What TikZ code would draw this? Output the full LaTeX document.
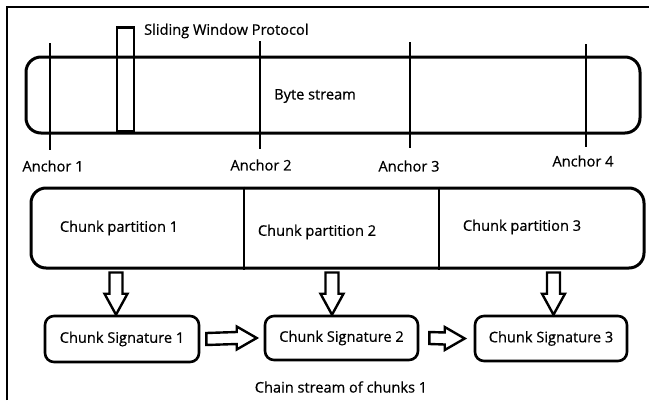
\documentclass[tikz,border=0pt]{standalone}
\usepackage{fontspec}
\setmainfont{Open Sans}[FakeBold=0.6]
\newfontfamily\labelfont{Open Sans}[FakeBold=0.6]
\usetikzlibrary{positioning,calc}

\tikzset{
  rbox/.style={draw, line width=3pt, rounded corners=15pt, inner sep=0pt},
  sigbox/.style={draw, line width=2.6pt, rounded corners=9pt, inner sep=0pt, font=\labelfont\fontsize{14.6}{16}\selectfont},
  txt/.style={inner sep=0pt, font=\labelfont\fontsize{14.6}{16}\selectfont},
  blk/.style={draw, line width=2.4pt, line join=miter},
  anc/.style={line width=2.8pt}
}

\begin{document}
\begin{tikzpicture}[x=1pt,y=-1pt]
  \useasboundingbox (0,0) rectangle (649,400);
  % frame
  \draw[line width=1.4pt] (7,400) -- (7,7) -- (649,7);

  % byte stream
  \node[rbox, minimum width=614pt, minimum height=76pt] (bytes) at (333,95) {};
  \node[txt] (bstxt) at (315,96) {Byte stream};

  % window
  \node[draw, line width=2.6pt, inner sep=0pt, minimum width=17pt, minimum height=104pt] (win) at (125.5,79.5) {};
  \node[txt, anchor=west] (wintxt) at (144,31) {Sliding Window Protocol};

  % anchors
  \foreach \x/\ya/\yb/\lx/\ly/\n in {50/43/150/53/166/1, 260/41/149/261/165/2, 410/42/148/409/166/3, 586/44/147/583/161/4}{
    \coordinate (at\n) at (\x,\ya);
    \coordinate (ab\n) at (\x,\yb);
    \draw[anc] (at\n) -- (ab\n);
    \node[txt] (anc\n) at (\lx,\ly) {Anchor \n};
  }

  % partitions
  \node[rbox, minimum width=613pt, minimum height=80pt] (parts) at (337.5,228) {};
  \draw[line width=2.4pt] (244,0 |- parts.north) -- (244,0 |- parts.south);
  \draw[line width=2.4pt] (439,0 |- parts.north) -- (439,0 |- parts.south);
  \node[txt] (p1) at (119,228) {Chunk partition 1};
  \node[txt] (p2) at (317,232) {Chunk partition 2};
  \node[txt] (p3) at (522,227) {Chunk partition 3};

  % signatures
  \node[sigbox, minimum width=154pt, minimum height=46pt] (sig1) at (122,339) {Chunk Signature 1};
  \node[sigbox, minimum width=153pt, minimum height=44pt] (sig2) at (341.5,338) {Chunk Signature 2};
  \node[sigbox, minimum width=152pt, minimum height=45pt] (sig3) at (551,338.5) {Chunk Signature 3};

  %parts>sig
  \foreach \x/\n in {116/1, 332/2, 553.5/3}{
    \coordinate (ds\n) at ($(\x,0 |- parts.south)+(0,3)$);
    \coordinate (dt\n) at (\x,0 |- sig\n.north);
    \draw[blk] ($(ds\n)+(-6.5,0)$) -- ($(dt\n)+(-6.5,-21)$) -- ($(dt\n)+(-11.5,-21)$) -- (dt\n)
      -- ($(dt\n)+(11.5,-21)$) -- ($(dt\n)+(6.5,-21)$) -- ($(ds\n)+(6.5,0)$) -- cycle;
  }

  %sig>sig
  \coordinate (rs1) at ($(sig1.east)+(6,0)$);
  \coordinate (rt1) at ($(sig2.west)+(-7,0)$);
  \coordinate (rs2) at ($(sig2.east)+(10,0)$);
  \coordinate (rt2) at ($(sig3.west)+(-9,0)$);
  \foreach \n in {1,2}{
    \draw[blk] ($(rs\n)+(0,-6)$) -- ($(rt\n)+(-20,-6)$) -- ($(rt\n)+(-20,-11.5)$) -- (rt\n)
      -- ($(rt\n)+(-20,11.5)$) -- ($(rt\n)+(-20,6)$) -- ($(rs\n)+(0,6)$) -- cycle;
  }

  \node[txt] (chain) at (341,387) {Chain stream of chunks 1};
\end{tikzpicture}
\end{document}
